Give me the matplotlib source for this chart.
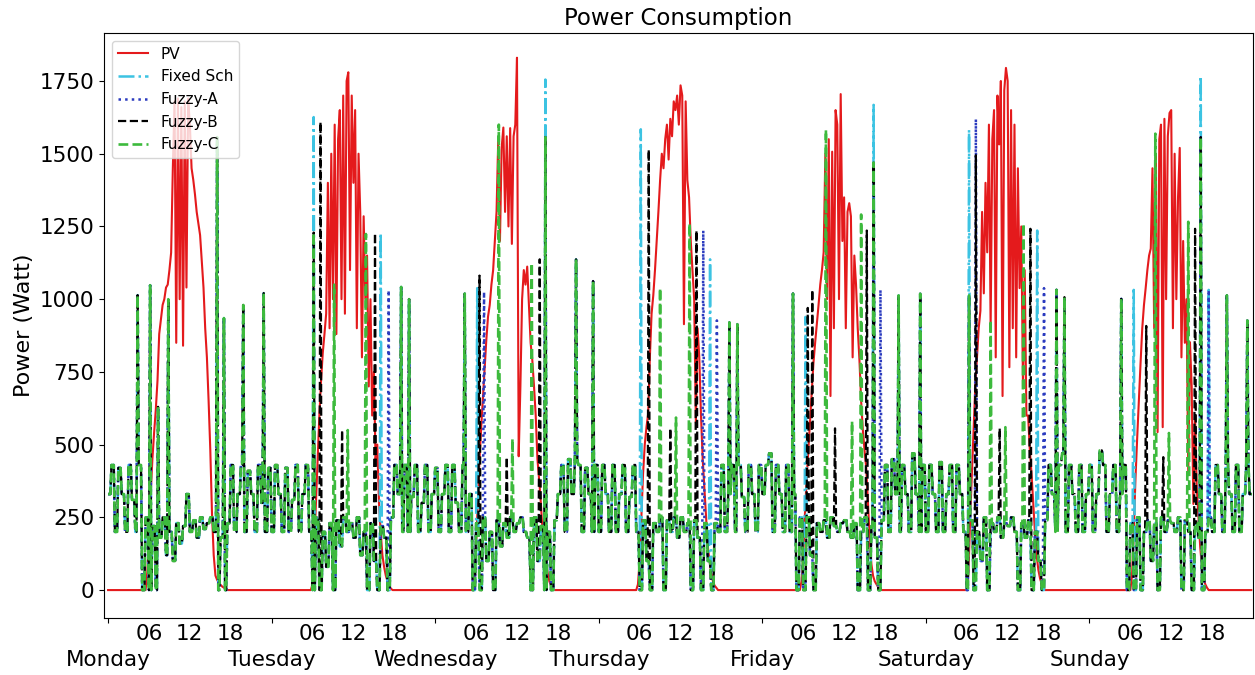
import numpy as np
import matplotlib
matplotlib.use("Agg")
import matplotlib.pyplot as plt

# ---------------- data ----------------
days = ["Monday", "Tuesday", "Wednesday", "Thursday", "Friday", "Saturday", "Sunday"]
hour_labels = ["06", "12", "18"]

# PV (W), 15-min samples from 05:00 to 19:00 (zero outside)
pv_mon = [0, 0, 0, 60, 180, 330, 450, 540, 620, 720, 880, 930, 980, 1000, 1040, 1050,
          1100, 1160, 1450, 1680, 850, 1690, 1000, 1660, 840, 1680, 1040, 1690,
          1600, 1450, 1410, 1360, 1300, 1260, 1220, 1130, 1040, 900, 800, 650,
          480, 260, 120, 50, 35, 25, 18, 12, 8, 4, 0, 0, 0, 0, 0, 0, 0]
pv_tue = [0, 0, 0, 0, 20, 150, 300, 450, 600, 720, 815, 880, 950, 1400, 900, 1500,
          1000, 1600, 880, 1550, 1650, 1000, 1700, 950, 1750, 1780, 1100, 1700,
          1400, 1650, 900, 1500, 1300, 800, 1285, 1000, 1150, 700, 1000, 600,
          750, 450, 500, 300, 200, 120, 80, 50, 30, 15, 5, 0, 0, 0, 0, 0, 0]
pv_wed = [0, 0, 0, 30, 150, 300, 450, 560, 660, 760, 860, 940, 980, 1050, 1100, 1200,
          1300, 1550, 1200, 1520, 1590, 1300, 1560, 1250, 1588, 1190, 1560, 1600,
          1830, 460, 700, 1000, 1100, 1050, 1112, 980, 850, 790, 700, 600,
          450, 380, 300, 200, 130, 100, 60, 30, 15, 5, 0, 0, 0, 0, 0, 0, 0]
pv_thu = [0, 0, 0, 20, 100, 250, 400, 500, 560, 606, 800, 950, 1013, 1100, 1200, 1300,
          1409, 1500, 1450, 1550, 1600, 1480, 1620, 1560, 1680, 1650, 1700, 1600,
          1735, 1700, 914, 1680, 1409, 1350, 1200, 1100, 1000, 574, 900, 800,
          600, 450, 350, 250, 150, 100, 60, 30, 15, 8, 0, 0, 0, 0, 0, 0, 0]
pv_fri = [0, 0, 0, 30, 120, 260, 380, 480, 580, 680, 780, 850, 914, 980, 1050, 1100,
          1161, 1500, 1000, 1550, 667, 1507, 900, 1650, 1600, 1000, 1705, 1200,
          1350, 900, 1300, 1330, 1285, 800, 1150, 1050, 900, 791, 650, 550,
          480, 420, 300, 180, 90, 49, 30, 20, 10, 5, 0, 0, 0, 0, 0, 0, 0]
pv_sat = [0, 0, 0, 0, 0, 60, 250, 400, 550, 700, 800, 900, 960, 1300, 1020, 1400,
          1161, 1600, 900, 1550, 1650, 800, 1700, 1532, 1750, 667, 1718, 1795,
          1750, 766, 1650, 900, 1600, 800, 1450, 1038, 1250, 700, 1100, 600,
          600, 482, 400, 300, 200, 120, 70, 40, 20, 8, 0, 0, 0, 0, 0, 0, 0]
pv_sun = [0, 0, 0, 0, 0, 50, 200, 380, 520, 650, 780, 900, 980, 1038, 1100, 1150,
          1174, 1450, 900, 1500, 543, 1550, 1600, 560, 1620, 1000, 1560, 1640,
          1650, 900, 1500, 1000, 1350, 1520, 800, 1200, 850, 1000, 400, 852,
          700, 296, 600, 350, 250, 150, 80, 40, 20, 8, 0, 0, 0, 0, 0, 0, 0]

# household base load (W), 30-min samples, 00:00 .. 23:30
load_mon = [330, 430, 200, 420, 330, 200, 430, 310, 200, 430, 0, 250,
            0, 220, 0, 180, 250, 120, 200, 100, 230, 160, 220, 330,
            200, 240, 180, 250, 210, 230, 250, 200, 0, 180, 0, 230,
            430, 200, 330, 430, 200, 410, 330, 200, 430, 300, 200, 420]
load_tue = [200, 430, 330, 200, 420, 200, 310, 430, 200, 330, 430, 200,
            0, 250, 0, 200, 80, 230, 0, 240, 150, 250, 200, 230,
            180, 250, 120, 200, 0, 230, 100, 0, 220, 180, 0, 250,
            430, 330, 200, 430, 200, 320, 430, 200, 300, 430, 200, 330]
load_wed = [420, 200, 330, 430, 200, 430, 300, 200, 430, 200, 330, 0,
            230, 0, 250, 100, 200, 0, 240, 150, 230, 180, 250, 200,
            230, 250, 200, 180, 0, 250, 100, 220, 0, 200, 0, 240,
            330, 430, 200, 450, 330, 450, 430, 200, 420, 330, 200, 430]
load_thu = [200, 430, 330, 200, 430, 200, 330, 430, 200, 320, 430, 200,
            0, 240, 100, 0, 230, 200, 250, 0, 240, 200, 250, 180,
            250, 200, 230, 0, 240, 180, 0, 230, 100, 0, 230, 200,
            430, 200, 330, 430, 200, 430, 320, 200, 430, 330, 200, 430]
load_fri = [330, 430, 470, 200, 430, 330, 200, 430, 200, 330, 0, 250,
            0, 250, 120, 0, 230, 200, 240, 180, 250, 220, 200, 230,
            240, 200, 180, 230, 0, 200, 250, 0, 220, 180, 0, 240,
            430, 200, 450, 330, 200, 430, 330, 200, 470, 330, 200, 430]
load_sat = [200, 430, 330, 200, 440, 200, 330, 430, 200, 430, 330, 200,
            0, 240, 0, 200, 100, 250, 0, 230, 200, 250, 180, 230,
            220, 250, 200, 0, 230, 180, 240, 0, 200, 100, 0, 240,
            430, 330, 200, 430, 470, 200, 430, 330, 200, 430, 200, 330]
load_sun = [430, 200, 330, 480, 430, 200, 330, 430, 200, 330, 430, 0,
            230, 0, 250, 0, 200, 240, 100, 230, 0, 250, 200, 240,
            230, 200, 250, 0, 240, 200, 0, 230, 180, 0, 200, 250,
            200, 430, 330, 200, 430, 330, 200, 430, 200, 330, 430, 330]

# appliance events (day index, hour, W) shared by every schedule
common_events = [(0, 4.3, 1014), (0, 6.1, 1048), (0, 7.3, 630), (0, 8.9, 1000),
                 (0, 16.0, 1557), (0, 17.0, 935), (0, 19.9, 980), (0, 22.8, 1021),
                 (1, 19.0, 1042), (1, 20.2, 1000),
                 (2, 4.4, 1019), (2, 16.2, 1557), (2, 20.6, 1137), (2, 23.1, 1062),
                 (3, 19.1, 920), (3, 20.3, 914),
                 (4, 4.5, 1019), (4, 16.3, 1470), (4, 20.0, 1013), (4, 23.1, 1019),
                 (5, 6.3, 1013), (5, 19.2, 1032), (5, 20.4, 1007),
                 (6, 4.7, 1001), (6, 16.4, 1557), (6, 20.2, 1013), (6, 23.2, 927)]
# schedule-specific shifted loads
fixed_events = [(1, 6.1, 1626), (1, 16.0, 1227), (2, 6.1, 1038), (2, 16.2, 1755),
                (3, 6.2, 1584), (3, 16.3, 1137), (4, 6.4, 939), (4, 16.3, 1668),
                (5, 6.3, 1582), (5, 16.4, 1236), (6, 6.5, 1032), (6, 16.4, 1767),
                (6, 17.5, 1032)]
fuzzy_a_events = [(1, 17.2, 1031), (2, 7.2, 1025), (3, 15.3, 1236), (3, 17.3, 927),
                  (4, 17.4, 1032), (5, 7.4, 1619), (5, 17.4, 1038), (6, 17.5, 1032)]
fuzzy_b_events = [(1, 6.2, 1229), (1, 7.2, 1609), (1, 10.3, 550), (1, 15.1, 1227),
                  (2, 6.5, 1081), (2, 10.5, 457), (2, 15.3, 1137),
                  (3, 7.4, 1514), (3, 10.5, 556), (3, 14.3, 1236),
                  (4, 6.7, 970), (4, 7.3, 1032), (4, 10.6, 556), (4, 15.4, 1236),
                  (5, 7.4, 1495), (5, 10.8, 556), (5, 15.3, 1242),
                  (6, 8.4, 908), (6, 10.8, 457), (6, 15.5, 1242)]
fuzzy_c_events = [(1, 6.2, 1229), (1, 9.2, 1050), (1, 11.2, 550), (1, 13.8, 1224),
                  (2, 9.3, 1600), (2, 11.3, 520), (2, 14.2, 1124),
                  (3, 9.0, 1038), (3, 11.3, 593), (3, 13.4, 1260),
                  (4, 9.4, 1582), (4, 13.1, 580), (4, 14.5, 1291),
                  (5, 9.5, 927), (5, 11.6, 560), (5, 14.3, 1260),
                  (6, 9.6, 1569), (6, 11.6, 540), (6, 14.5, 1266)]

# ---------------- build series ----------------
pv_days = [pv_mon, pv_tue, pv_wed, pv_thu, pv_fri, pv_sat, pv_sun]
load_days = [load_mon, load_tue, load_wed, load_thu, load_fri, load_sat, load_sun]

pv = np.concatenate([[0] * 20 + list(v) + [0] * (96 - 20 - len(v)) for v in pv_days])
x_pv = np.arange(len(pv)) / 96.0

base = np.repeat(np.concatenate(load_days), 3).astype(float)  # 10-min slots
x_load = np.arange(len(base)) / 144.0


def schedule(extra):
    s = base.copy()
    for d, h, w in common_events + extra:
        s[d * 144 + int(round(h * 6))] = w
    return s


fixed = schedule(fixed_events)
fa = schedule(fuzzy_a_events)
fb = schedule(fuzzy_b_events)
fc = schedule(fuzzy_c_events)

# ---------------- plot ----------------
fig = plt.figure(figsize=(12.55, 6.75), dpi=100)
ax = fig.add_axes([104 / 1255, 1 - 618 / 675, (1253 - 104) / 1255, (618 - 33) / 675])

ax.plot(x_pv, pv, color="#e41a1c", lw=1.5, label="PV")
ax.plot(x_load, fixed, color="#3cc3e2", lw=1.8, ls="-.", label="Fixed Sch")
ax.plot(x_load, fa, color="#2b3bbf", lw=1.8, ls=":", label="Fuzzy-A")
ax.plot(x_load, fb, color="black", lw=1.6, ls="--", label="Fuzzy-B")
ax.plot(x_load, fc, color="#3dba3d", lw=1.9, ls="--", label="Fuzzy-C")

ax.set_xlim(-0.025, 7.0)
ax.set_ylim(-96, 1915)
ax.set_yticks(np.arange(0, 1751, 250))

major = np.arange(7)
ax.set_xticks(major)
ax.set_xticklabels(days)
minor = np.array([d + f for d in range(7) for f in (0.25, 0.5, 0.75)])
ax.set_xticks(minor, minor=True)
ax.set_xticklabels(hour_labels * 7, minor=True)
ax.tick_params(axis="x", which="major", labelsize=15.5, length=3.5, pad=19.5)
ax.tick_params(axis="x", which="minor", labelsize=15.5, length=0, pad=4)
ax.tick_params(axis="y", labelsize=15.5)

ax.set_ylabel("Power (Watt)", fontsize=16)
ax.set_title("Power Consumption", fontsize=16.5)
ax.legend(loc="upper left", fontsize=11)

fig.savefig("out.png", dpi=100)
